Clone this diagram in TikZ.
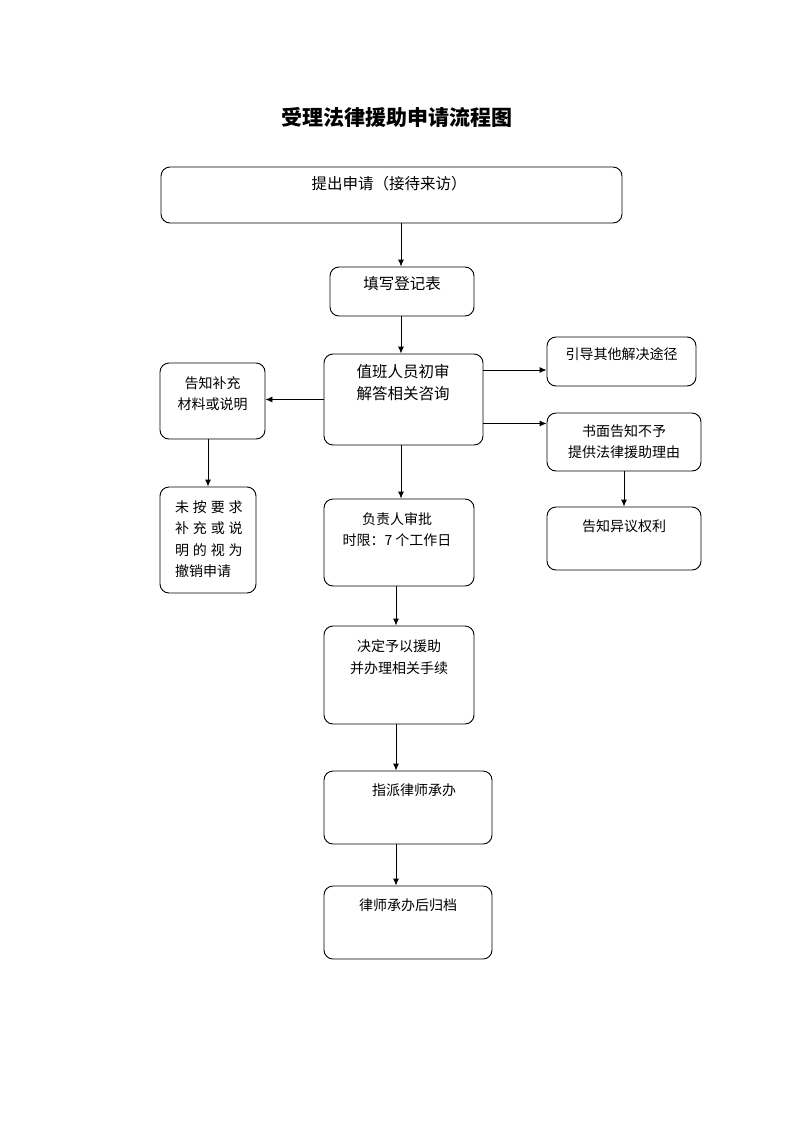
\documentclass[tikz,border=0pt]{standalone}
\usepackage{fontspec}
\newfontfamily\cjk{Noto Sans CJK SC}
\usetikzlibrary{arrows.meta}

\tikzset{
  box/.style={draw, line width=0.9pt, rounded corners=9pt, inner sep=0pt},
  txt/.style={font=\cjk\fontsize{14}{21.5}\selectfont, align=center, inner sep=0pt},
  big/.style={font=\cjk\fontsize{15.5}{22}\selectfont},
  arr/.style={line width=0.9pt, -{Latex[length=7pt,width=6pt]}}
}

\begin{document}
\begin{tikzpicture}[x=1pt,y=-1pt]
\useasboundingbox (0,0) rectangle (793,1122);

\node[font=\cjk\bfseries\fontsize{21}{24}\selectfont] (title) at (397,117) {受理法律援助申请流程图};

% middle column
\node[box, minimum width=461pt, minimum height=56pt] (apply) at (391.5,195) {};
\node[txt, big] (applyT) at (389,184) {提出申请（接待来访）};
\node[box, minimum width=144pt, minimum height=49pt] (form) at (402,291.5) {};
\node[txt, big] (formT) at (402,284) {填写登记表};
\node[box, minimum width=159pt, minimum height=91pt] (vet) at (403.5,399.5) {};
\node[txt, big] (vetT) at (403,383) {值班人员初审\\解答相关咨询};
\node[box, minimum width=150pt, minimum height=87pt] (sign) at (399,542.5) {};
\node[txt] (signT) at (397,529.5) {负责人审批\\时限：7 个工作日};
\node[box, minimum width=150pt, minimum height=98pt] (grant) at (399,675) {};
\node[txt] (grantT) at (399,657) {决定予以援助\\并办理相关手续};
\node[box, minimum width=168pt, minimum height=73pt] (assign) at (408,807.5) {};
\node[txt] (assignT) at (414,790) {指派律师承办};
\node[box, minimum width=168pt, minimum height=73pt] (archive) at (408,922.5) {};
\node[txt] (archiveT) at (408,905) {律师承办后归档};

% left column
\node[box, minimum width=105pt, minimum height=76pt] (supply) at (212.5,401) {};
\node[txt] (supplyT) at (212.5,393.5) {告知补充\\材料或说明};
\node[box, minimum width=96pt, minimum height=106pt] (revoke) at (208,540) {};
\node[txt, align=left, anchor=west] (revokeT) at (175,539) {未\hspace{3.8pt}按\hspace{3.8pt}要\hspace{3.8pt}求\\补\hspace{3.8pt}充\hspace{3.8pt}或\hspace{3.8pt}说\\明\hspace{3.8pt}的\hspace{3.8pt}视\hspace{3.8pt}为\\撤销申请};

% right column
\node[box, minimum width=149pt, minimum height=49pt] (guide) at (621.5,361.5) {};
\node[txt] (guideT) at (621.5,354) {引导其他解决途径};
\node[box, minimum width=154pt, minimum height=58pt] (refuse) at (624,442) {};
\node[txt] (refuseT) at (624,441.5) {书面告知不予\\提供法律援助理由};
\node[box, minimum width=154pt, minimum height=63pt] (object) at (624,538.5) {};
\node[txt] (objectT) at (624,526) {告知异议权利};

\coordinate (r1) at (0,370);
\coordinate (r2) at (0,423.5);
\coordinate (m1) at (401,0);
\coordinate (m2) at (396,0);

\draw[arr] (apply.south -| m1) -- (form.north -| m1);
\draw[arr] (form.south -| m1) -- (vet.north -| m1);
\draw[arr] (vet.west) -- (supply.east |- vet.west);
\draw[arr] (vet.east |- r1) -- (guide.west |- r1);
\draw[arr] (vet.east |- r2) -- (refuse.west |- r2);
\draw[arr] (supply.south -| revoke.north) -- (revoke.north);
\draw[arr] (refuse.south) -- (object.north);
\draw[arr] (vet.south -| m1) -- (sign.north -| m1);
\draw[arr] (sign.south -| m2) -- (grant.north -| m2);
\draw[arr] (grant.south -| m2) -- (assign.north -| m2);
\draw[arr] (assign.south -| m2) -- (archive.north -| m2);

\end{tikzpicture}
\end{document}
